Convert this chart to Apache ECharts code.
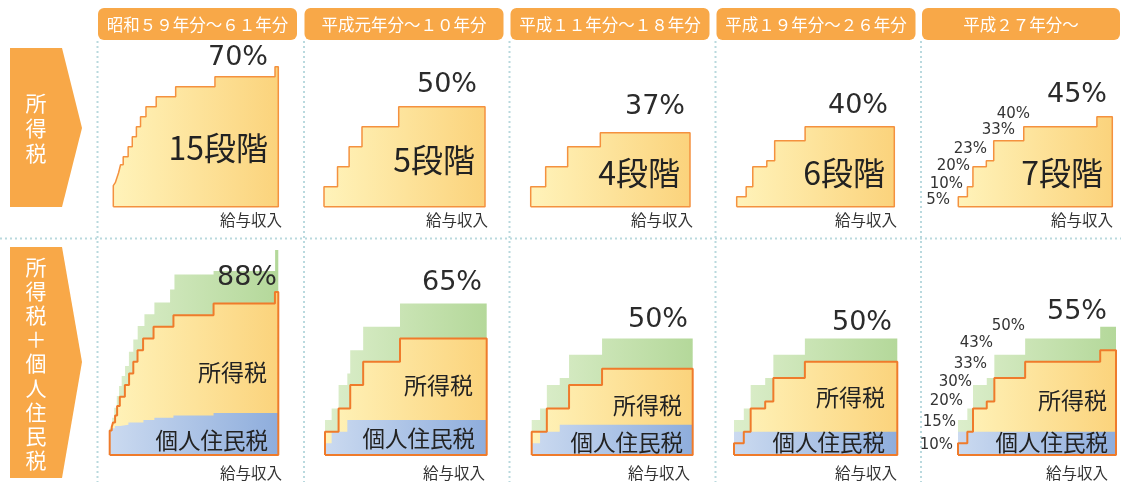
<!DOCTYPE html>
<html>
<head>
<meta charset="utf-8">
<script src="https://cdn.jsdelivr.net/npm/echarts@6/dist/echarts.min.js"></script>
<style>
  body { margin: 0; background: #fff; }
  #main { width: 1121px; height: 482px; }
</style>
</head>
<body>
<div id="main"></div>
<script>
// eras (column headers)
const eraNames = ['昭和５９年分～６１年分', '平成元年分～１０年分', '平成１１年分～１８年分', '平成１９年分～２６年分', '平成２７年分～']

// where each bracket starts on the salary-income axis (0..100 of panel width)
const incomeX = [
    [0, 1.2, 2.0, 3.2, 4.4, 6.0, 9.0, 11.5, 14.0, 16.5, 19.8, 26.0, 37.8, 61.6, 98.0],
    [0, 8.4, 15.6, 23.6, 46.4],
    [0, 9.4, 23.2, 43.7],
    [0, 6.0, 10.2, 19.1, 24.1, 43.4],
    [0, 5.9, 9.5, 18.2, 23.0, 42.5, 90.0]
]
// income tax rates (%)
const incomeRate = [
    [10.5, 12, 14, 17, 21, 25, 30, 35, 40, 45, 50, 55, 60, 65, 70],
    [10, 20, 30, 40, 50],
    [10, 20, 30, 37],
    [5, 10, 20, 23, 33, 40],
    [5, 10, 20, 23, 33, 40, 45]
]
// resident tax (個人住民税)
const residentX = [
    [0, 1.2, 3.1, 6.1, 11.1, 20.0, 26.5, 37.8, 61.6],
    [0, 4.1, 13.8],
    [0, 5.2, 17.4],
    [0],
    [0]
]
const residentRate = [
    [10.5, 11.5, 12.5, 13, 14, 15, 16, 17, 18],
    [5, 10, 15],
    [5, 10, 13],
    [10],
    [10]
]
// income tax + resident tax
const totalX = [
    [0, 1.5, 2.7, 4.2, 5.5, 7.1, 9.1, 11.4, 14.0, 16.6, 20.6, 26.5, 35.8, 38.4, 61.6, 98.1],
    [0, 4.1, 8.4, 13.8, 15.6, 23.6, 46.4],
    [0, 5.2, 9.4, 17.4, 23.2, 43.7],
    [0, 6.0, 10.2, 19.1, 24.1, 43.4],
    [0, 5.9, 9.5, 18.2, 23.0, 42.5, 90.0]
]
const totalRate = [
    [11.7, 16, 20.3, 25.3, 29.6, 33.9, 38.2, 44.3, 49.6, 55.4, 60.4, 65.4, 71, 77.5, 79, 88],
    [15, 20, 30, 35, 45, 55, 65],
    [15, 20, 30, 33, 43, 50],
    [15, 20, 30, 33, 43, 50],
    [15, 20, 30, 33, 43, 50, 55]
]

// layout
const topPanels = [[113.3, 165], [324, 161], [530.7, 159.3], [736.7, 157.6], [958.3, 154]]
const bottomPanels = [[109.7, 168.6], [325, 161.7], [531.7, 161], [734, 163.3], [958, 158]]
const pillX = [98, 304.5, 510.5, 716.5, 922]
const dotX = [97.5, 304, 509.5, 715.5, 921]
const topPeakPos = [[268, 58], [477, 85], [685, 107], [888, 106], [1107, 95]]
const topStepPos = [[268, 148], [475, 160], [680, 173], [885, 173], [1103, 173]]
const topAxisPos = [[282, 220], [488, 220], [693, 220], [897, 220], [1113, 220]]
const botPeakPos = [[277, 278], [482, 283], [688, 320], [892, 323], [1107, 312]]
const botIncomePos = [[267, 372], [473, 385], [682, 405], [885, 397], [1107, 400]]
const botResidentPos = [[268, 440], [475, 438], [683, 442], [885, 442], [1108, 442]]
const botAxisPos = [[282, 473], [485, 473], [690, 473], [897, 473], [1108, 473]]
const topSmallPos = [[950, 200], [963, 184], [970, 166], [987, 149], [1015, 130], [1030, 114]]
const botSmallPos = [[953, 445], [956, 422], [963, 401], [972, 382], [987, 364], [993, 343], [1025, 326]]

const ORANGE = '#F8A848'
const JP = '"Noto Sans CJK JP"'
const NUM = '"DejaVu Sans"'

const chart = echarts.init(document.getElementById('main'))

function grad(a, b) {
    return new echarts.graphic.LinearGradient(0, 0, 1, 0, [{offset: 0, color: a}, {offset: 1, color: b}])
}
function stepPts(xs, rates) {
    let pts = [[0, 0]]
    xs.forEach((x, i) => pts.push([x, rates[i]]))
    pts.push([100, rates[rates.length - 1]], [100, 0])
    return pts
}
function areaSeries(gi, pts, colors, z) {
    return {
        type: 'line', xAxisIndex: gi, yAxisIndex: gi, step: 'end', symbol: 'none',
        silent: true, clip: false, z: z,
        lineStyle: {width: 0, opacity: 0},
        areaStyle: {opacity: 1, color: grad(colors[0], colors[1])},
        data: pts
    }
}
function outlineSeries(gi, pts, color, width) {
    return {
        type: 'line', xAxisIndex: gi, yAxisIndex: gi, step: 'end', symbol: 'none',
        silent: true, clip: false, z: 10,
        lineStyle: {color: color, width: width},
        data: pts.concat([[0, 0]])
    }
}
function txt(x, y, text, font, align, fill, extra) {
    return {
        type: 'text', x: x, y: y, z: 100, silent: true,
        style: Object.assign({text: text, font: font, fill: fill || '#2b2b2b', align: align || 'right', verticalAlign: 'middle'}, extra || {})
    }
}

let grids = [], xAxes = [], yAxes = [], series = [], graphics = []

const YELLOW = ['#FFF3BA', '#FBD37C']
const GREEN = ['#DCEECB', '#B4D89A']
const BLUE = ['#CBDAF0', '#8EADDC']

for (let i = 0; i < 5; i++) {
    // top row: income tax only
    let gi = i
    grids.push({left: topPanels[i][0], width: topPanels[i][1], top: 46.7, height: 160})
    xAxes.push({type: 'value', gridIndex: gi, min: 0, max: 100, show: false})
    yAxes.push({type: 'value', gridIndex: gi, min: 0, max: 80, show: false})
    let pts = stepPts(incomeX[i], incomeRate[i])
    series.push(areaSeries(gi, pts, YELLOW, 2))
    series.push(outlineSeries(gi, pts, '#F4913F', 1.5))
}
for (let i = 0; i < 5; i++) {
    // bottom row: income tax + resident tax
    let gi = 5 + i
    grids.push({left: bottomPanels[i][0], width: bottomPanels[i][1], top: 245.3, height: 209.7})
    xAxes.push({type: 'value', gridIndex: gi, min: 0, max: 100, show: false})
    yAxes.push({type: 'value', gridIndex: gi, min: 0, max: 90, show: false})
    series.push(areaSeries(gi, stepPts(totalX[i], totalRate[i]), GREEN, 1))
    let inc = stepPts(incomeX[i], incomeRate[i])
    series.push(areaSeries(gi, inc, YELLOW, 2))
    series.push(areaSeries(gi, stepPts(residentX[i], residentRate[i]), BLUE, 3))
    series.push(outlineSeries(gi, inc, '#EF7B2B', 2))
}

// dotted separators
dotX.forEach(x => graphics.push({type: 'line', silent: true, z: 0,
    shape: {x1: x, y1: 41, x2: x, y2: 482},
    style: {stroke: '#B9D9DE', lineWidth: 2, lineDash: [2, 3]}}))
graphics.push({type: 'line', silent: true, z: 0,
    shape: {x1: 0, y1: 238.5, x2: 1121, y2: 238.5},
    style: {stroke: '#B9D9DE', lineWidth: 2, lineDash: [2, 3]}})

// column header pills
eraNames.forEach((name, i) => {
    let w = i === 4 ? 198 : 199
    graphics.push({type: 'rect', silent: true, z: 1,
        shape: {x: pillX[i], y: 8, width: w, height: 32, r: 6}, style: {fill: ORANGE}})
    graphics.push(txt(pillX[i] + w / 2, 24.5, name, '16.5px ' + JP, 'center', '#fff'))
})

// row arrows
graphics.push({type: 'polygon', silent: true, z: 1,
    shape: {points: [[10, 48], [62, 48], [82, 128], [62, 207], [10, 207]]}, style: {fill: ORANGE}})
graphics.push({type: 'polygon', silent: true, z: 1,
    shape: {points: [[10, 247], [62, 247], [82, 362], [62, 478], [10, 478]]}, style: {fill: ORANGE}})
graphics.push(txt(36, 128, '所\n得\n税', '21px ' + JP, 'center', '#fff', {lineHeight: 25}))
graphics.push(txt(36, 363.5, '所\n得\n税\n＋\n個\n人\n住\n民\n税', '21px ' + JP, 'center', '#fff', {lineHeight: 24.1}))

for (let i = 0; i < 5; i++) {
    graphics.push(txt(topPeakPos[i][0], topPeakPos[i][1], Math.max(...incomeRate[i]) + '%', '27px ' + NUM))
    graphics.push(txt(topStepPos[i][0], topStepPos[i][1], incomeRate[i].length + '段階', '32px ' + JP, 'right', '#222'))
    graphics.push(txt(topAxisPos[i][0], topAxisPos[i][1], '給与収入', '15.5px ' + JP, 'right', '#333'))
    graphics.push(txt(botPeakPos[i][0], botPeakPos[i][1], Math.max(...totalRate[i]) + '%', '27px ' + NUM))
    graphics.push(txt(botIncomePos[i][0], botIncomePos[i][1], '所得税', '23px ' + JP, 'right', '#222'))
    graphics.push(txt(botResidentPos[i][0], botResidentPos[i][1], '個人住民税', '22.5px ' + JP, 'right', '#222'))
    graphics.push(txt(botAxisPos[i][0], botAxisPos[i][1], '給与収入', '15.5px ' + JP, 'right', '#333'))
}

// bracket labels on the latest era
const topSmall = incomeRate[4].slice(0, -1).map(v => v + '%')
const botSmall = residentRate[4].concat(totalRate[4].slice(0, -1)).map(v => v + '%')
topSmall.forEach((t, k) => graphics.push(txt(topSmallPos[k][0], topSmallPos[k][1], t, '15px ' + NUM, 'right', '#333')))
botSmall.forEach((t, k) => graphics.push(txt(botSmallPos[k][0], botSmallPos[k][1], t, '15px ' + NUM, 'right', '#333')))

chart.setOption({
    animation: false,
    grid: grids,
    xAxis: xAxes,
    yAxis: yAxes,
    series: series,
    graphic: graphics
})
</script>
</body>
</html>
